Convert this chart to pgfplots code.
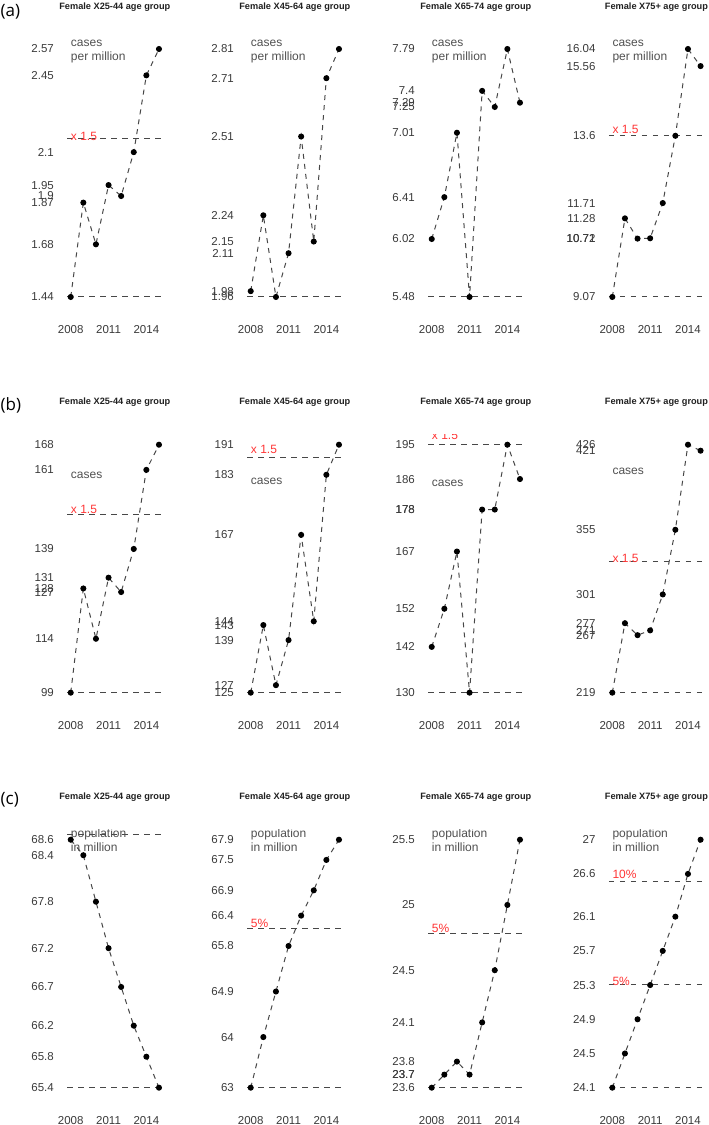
\documentclass[border=0pt]{standalone}
\usepackage{pgfplots}
\pgfplotsset{compat=1.18}
\usepackage{fontspec}
\setmainfont{Liberation Sans}
\newfontfamily\letterfont{Open Sans}
\definecolor{tickgray}{HTML}{3A3A3A}
\definecolor{txtgray}{HTML}{505050}
\definecolor{titlegray}{HTML}{202020}
\definecolor{linegray}{HTML}{474747}
\definecolor{refred}{HTML}{FF3535}
\pgfplotsset{
  panel/.style={
    scale only axis, width=95.3pt, height=267.8pt,
    xmin=2007.72, xmax=2015.28, anchor=south west,
    axis line style={draw=none}, tick style={draw=none},
    xtick={2008,2011,2014}, xticklabels={2008,2011,2014},
    tick label style={font=\fontsize{11.5}{13}\selectfont, text=tickgray, inner sep=0pt},
    xticklabel style={anchor=north, yshift=-18.5pt},
    yticklabel style={anchor=east, xshift=-13.2pt},
    /pgf/number format/assume math mode=true,
    title style={at={(0.5,1)}, anchor=center, yshift=26.4pt, inner sep=0pt,
      font=\bfseries\fontsize{9.2}{10}\selectfont, text=titlegray},
    clip=true,
  },
  dataline/.style={draw=linegray, line width=1pt, dash pattern=on 5pt off 5pt,
    mark=*, mark size=2.5pt, mark options={solid, fill=black, draw=black}},
  refline/.style={draw=linegray, line width=1pt, dash pattern=on 5.5pt off 5.5pt, no markers},
}
\tikzset{
  lbl/.style={anchor=base west, inner sep=0pt, text=txtgray, font=\fontsize{12}{14}\selectfont},
  redlbl/.style={anchor=base west, inner sep=0pt, text=refred, font=\fontsize{12}{14}\selectfont},
  letter/.style={anchor=west, inner sep=0pt, font=\letterfont\fontsize{17}{19}\selectfont},
}
\begin{document}
\begin{tikzpicture}
\useasboundingbox (0pt,0pt) rectangle (709pt,1125pt);
\node[letter] at (0.5pt,1113.3pt) {(a)};
\node[letter] at (0.5pt,720pt) {(b)};
\node[letter] at (0.5pt,325pt) {(c)};

% ---------------- Row (a) ----------------
\begin{axis}[panel, at={(67.2pt,818.1pt)}, ymin=1.3948, ymax=2.6152,
  title={Female X25-44 age group},
  ytick={1.44,1.68,1.87,1.9,1.95,2.1,2.45,2.57},
  yticklabels={1.44,1.68,1.87,1.9,1.95,2.1,2.45,2.57}]
\addplot[refline] coordinates {(2007.72,1.44) (2015.28,1.44)};
\addplot[refline] coordinates {(2007.72,2.16) (2015.28,2.16)};
\addplot[dataline] coordinates {(2008,1.44) (2009,1.87) (2010,1.68) (2011,1.95) (2012,1.9) (2013,2.1) (2014,2.45) (2015,2.57)};
\node[redlbl, yshift=-1.3pt] at (axis cs:2008,2.16) {x 1.5};
\node[lbl, yshift=2.3pt] at (axis cs:2008,2.57) {cases};
\node[lbl, yshift=-11.7pt] at (axis cs:2008,2.57) {per million};
\end{axis}

\begin{axis}[panel, at={(247.2pt,818.1pt)}, ymin=1.926, ymax=2.844,
  title={Female X45-64 age group},
  ytick={1.96,1.98,2.11,2.15,2.24,2.51,2.71,2.81},
  yticklabels={1.96,1.98,2.11,2.15,2.24,2.51,2.71,2.81}]
\addplot[refline] coordinates {(2007.72,1.96) (2015.28,1.96)};
\addplot[dataline] coordinates {(2008,1.98) (2009,2.24) (2010,1.96) (2011,2.11) (2012,2.51) (2013,2.15) (2014,2.71) (2015,2.81)};
\node[lbl, yshift=2.3pt] at (axis cs:2008,2.81) {cases};
\node[lbl, yshift=-11.7pt] at (axis cs:2008,2.81) {per million};
\end{axis}

\begin{axis}[panel, at={(428.2pt,818.1pt)}, ymin=5.3876, ymax=7.8824,
  title={Female X65-74 age group},
  ytick={5.48,6.02,6.41,7.01,7.25,7.29,7.4,7.79},
  yticklabels={5.48,6.02,6.41,7.01,7.25,7.29,7.4,7.79}]
\addplot[refline] coordinates {(2007.72,5.48) (2015.28,5.48)};
\addplot[dataline] coordinates {(2008,6.02) (2009,6.41) (2010,7.01) (2011,5.48) (2012,7.4) (2013,7.25) (2014,7.79) (2015,7.29)};
\node[lbl, yshift=2.3pt] at (axis cs:2008,7.79) {cases};
\node[lbl, yshift=-11.7pt] at (axis cs:2008,7.79) {per million};
\end{axis}

\begin{axis}[panel, at={(608.8pt,818.1pt)}, ymin=8.7912, ymax=16.3188,
  title={Female X75+ age group},
  ytick={9.07,10.71,10.72,11.28,11.71,13.6,15.56,16.04},
  yticklabels={9.07,10.71,10.72,11.28,11.71,13.6,15.56,16.04}]
\addplot[refline] coordinates {(2007.72,9.07) (2015.28,9.07)};
\addplot[refline] coordinates {(2007.72,13.605) (2015.28,13.605)};
\addplot[dataline] coordinates {(2008,9.07) (2009,11.28) (2010,10.71) (2011,10.72) (2012,11.71) (2013,13.6) (2014,16.04) (2015,15.56)};
\node[redlbl, yshift=1.7pt] at (axis cs:2008,13.605) {x 1.5};
\node[lbl, yshift=2.3pt] at (axis cs:2008,16.04) {cases};
\node[lbl, yshift=-11.7pt] at (axis cs:2008,16.04) {per million};
\end{axis}

% ---------------- Row (b) ----------------
\begin{axis}[panel, at={(67.2pt,422.4pt)}, ymin=96.24, ymax=170.76,
  title={Female X25-44 age group},
  ytick={99,114,127,128,131,139,161,168},
  yticklabels={99,114,127,128,131,139,161,168}]
\addplot[refline] coordinates {(2007.72,99) (2015.28,99)};
\addplot[refline] coordinates {(2007.72,148.5) (2015.28,148.5)};
\addplot[dataline] coordinates {(2008,99) (2009,128) (2010,114) (2011,131) (2012,127) (2013,139) (2014,161) (2015,168)};
\node[redlbl, yshift=1pt] at (axis cs:2008,148.5) {x 1.5};
\node[lbl, yshift=-33.7pt] at (axis cs:2008,168) {cases};
\end{axis}

\begin{axis}[panel, at={(247.2pt,422.4pt)}, ymin=122.36, ymax=193.64,
  title={Female X45-64 age group},
  ytick={125,127,139,143,144,167,183,191},
  yticklabels={125,127,139,143,144,167,183,191}]
\addplot[refline] coordinates {(2007.72,125) (2015.28,125)};
\addplot[refline] coordinates {(2007.72,187.5) (2015.28,187.5)};
\addplot[dataline] coordinates {(2008,125) (2009,143) (2010,127) (2011,139) (2012,167) (2013,144) (2014,183) (2015,191)};
\node[redlbl, yshift=4pt] at (axis cs:2008,187.5) {x 1.5};
\node[lbl, yshift=-40pt] at (axis cs:2008,191) {cases};
\end{axis}

\begin{axis}[panel, at={(428.2pt,422.4pt)}, ymin=127.4, ymax=197.6,
  title={Female X65-74 age group},
  ytick={130,142,152,167,178,178,186,195},
  yticklabels={130,142,152,167,178,178,186,195}]
\addplot[refline] coordinates {(2007.72,130) (2015.28,130)};
\addplot[refline] coordinates {(2007.72,195) (2015.28,195)};
\addplot[dataline] coordinates {(2008,142) (2009,152) (2010,167) (2011,130) (2012,178) (2013,178) (2014,195) (2015,186)};
\node[redlbl, yshift=5pt] at (axis cs:2008,195) {x 1.5};
\node[lbl, yshift=-41.3pt] at (axis cs:2008,195) {cases};
\end{axis}

\begin{axis}[panel, at={(608.8pt,422.4pt)}, ymin=210.72, ymax=434.28,
  title={Female X75+ age group},
  ytick={219,267,271,277,301,355,421,426},
  yticklabels={219,267,271,277,301,355,421,426}]
\addplot[refline] coordinates {(2007.72,219) (2015.28,219)};
\addplot[refline] coordinates {(2007.72,328.5) (2015.28,328.5)};
\addplot[dataline] coordinates {(2008,219) (2009,277) (2010,267) (2011,271) (2012,301) (2013,355) (2014,426) (2015,421)};
\node[redlbl, yshift=-0.7pt] at (axis cs:2008,328.5) {x 1.5};
\node[lbl, yshift=-29.3pt] at (axis cs:2008,426) {cases};
\end{axis}

% ---------------- Row (c) ----------------
\begin{axis}[panel, at={(67.2pt,27.4pt)}, ymin=65.272, ymax=68.728,
  title={Female X25-44 age group},
  ytick={65.4,65.8,66.2,66.7,67.2,67.8,68.4,68.6},
  yticklabels={65.4,65.8,66.2,66.7,67.2,67.8,68.4,68.6}]
\addplot[refline] coordinates {(2007.72,65.4) (2015.28,65.4)};
\addplot[refline] coordinates {(2007.72,68.67) (2015.28,68.67)};
\addplot[dataline] coordinates {(2008,68.6) (2009,68.4) (2010,67.8) (2011,67.2) (2012,66.7) (2013,66.2) (2014,65.8) (2015,65.4)};
\node[lbl, yshift=2.3pt] at (axis cs:2008,68.6) {population};
\node[lbl, yshift=-11.7pt] at (axis cs:2008,68.6) {in million};
\end{axis}

\begin{axis}[panel, at={(247.2pt,27.4pt)}, ymin=62.804, ymax=68.096,
  title={Female X45-64 age group},
  ytick={63,64,64.9,65.8,66.4,66.9,67.5,67.9},
  yticklabels={63,64,64.9,65.8,66.4,66.9,67.5,67.9}]
\addplot[refline] coordinates {(2007.72,63) (2015.28,63)};
\addplot[refline] coordinates {(2007.72,66.15) (2015.28,66.15)};
\addplot[dataline] coordinates {(2008,63) (2009,64) (2010,64.9) (2011,65.8) (2012,66.4) (2013,66.9) (2014,67.5) (2015,67.9)};
\node[redlbl, yshift=1pt] at (axis cs:2008,66.15) {5\%};
\node[lbl, yshift=2.3pt] at (axis cs:2008,67.9) {population};
\node[lbl, yshift=-11.7pt] at (axis cs:2008,67.9) {in million};
\end{axis}

\begin{axis}[panel, at={(428.2pt,27.4pt)}, ymin=23.524, ymax=25.576,
  title={Female X65-74 age group},
  ytick={23.6,23.7,23.7,23.8,24.1,24.5,25,25.5},
  yticklabels={23.6,23.7,23.7,23.8,24.1,24.5,25,25.5}]
\addplot[refline] coordinates {(2007.72,23.6) (2015.28,23.6)};
\addplot[refline] coordinates {(2007.72,24.78) (2015.28,24.78)};
\addplot[dataline] coordinates {(2008,23.6) (2009,23.7) (2010,23.8) (2011,23.7) (2012,24.1) (2013,24.5) (2014,25) (2015,25.5)};
\node[redlbl, yshift=0.7pt] at (axis cs:2008,24.78) {5\%};
\node[lbl, yshift=2.3pt] at (axis cs:2008,25.5) {population};
\node[lbl, yshift=-11.7pt] at (axis cs:2008,25.5) {in million};
\end{axis}

\begin{axis}[panel, at={(608.8pt,27.4pt)}, ymin=23.984, ymax=27.116,
  title={Female X75+ age group},
  ytick={24.1,24.5,24.9,25.3,25.7,26.1,26.6,27},
  yticklabels={24.1,24.5,24.9,25.3,25.7,26.1,26.6,27}]
\addplot[refline] coordinates {(2007.72,24.1) (2015.28,24.1)};
\addplot[refline] coordinates {(2007.72,25.305) (2015.28,25.305)};
\addplot[refline] coordinates {(2007.72,26.51) (2015.28,26.51)};
\addplot[dataline] coordinates {(2008,24.1) (2009,24.5) (2010,24.9) (2011,25.3) (2012,25.7) (2013,26.1) (2014,26.6) (2015,27)};
\node[redlbl, yshift=-0.7pt] at (axis cs:2008,25.305) {5\%};
\node[redlbl, yshift=3.6pt] at (axis cs:2008,26.51) {10\%};
\node[lbl, yshift=2.3pt] at (axis cs:2008,27) {population};
\node[lbl, yshift=-11.7pt] at (axis cs:2008,27) {in million};
\end{axis}
\end{tikzpicture}
\end{document}
